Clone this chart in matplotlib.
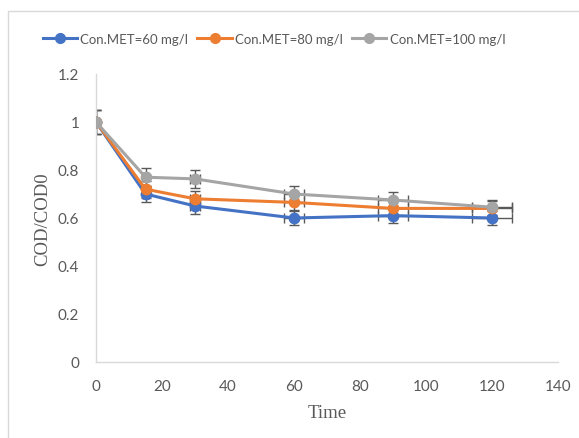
import matplotlib
matplotlib.use("Agg")
import matplotlib.pyplot as plt
from matplotlib.patches import Rectangle

time = [0, 15, 30, 60, 90, 120]
met60 = [1.0, 0.70, 0.65, 0.60, 0.61, 0.60]
met80 = [1.0, 0.72, 0.68, 0.665, 0.64, 0.64]
met100 = [1.0, 0.77, 0.763, 0.70, 0.675, 0.645]
yerr60 = [0.05, 0.035, 0.033, 0.03, 0.03, 0.03]
yerr80 = [0.05, 0.036, 0.034, 0.033, 0.032, 0.032]
yerr100 = [0.05, 0.038, 0.038, 0.035, 0.034, 0.032]
xerr = [0, 0.75, 1.5, 3, 4.5, 6]
labels = ["Con.MET=60 mg/l", "Con.MET=80 mg/l", "Con.MET=100 mg/l"]
colors = ["#4472C4", "#ED7D31", "#A5A5A5"]
xticks = [0, 20, 40, 60, 80, 100, 120, 140]
yticks = [0, 0.2, 0.4, 0.6, 0.8, 1.0, 1.2]
yticklabels = ["0", "0.2", "0.4", "0.6", "0.8", "1", "1.2"]

fig = plt.figure(figsize=(5.79, 4.39), dpi=100)
fig.patches.append(Rectangle((8/579, -0.1), 1.2, 1 - 12/439 + 0.1, transform=fig.transFigure,
                             fill=False, edgecolor="#d9d9d9", linewidth=1))
ax = fig.add_axes([96/579, 1 - 363/439, 462/579, 288/439])

for ys, ye, c, lab in zip([met60, met80, met100], [yerr60, yerr80, yerr100], colors, labels):
    ax.errorbar(time, ys, yerr=ye, xerr=xerr, fmt="none", ecolor="#595959",
                elinewidth=1, capsize=3.5, capthick=1, zorder=2)
    ax.plot(time, ys, color=c, lw=2.2, marker="o", markersize=7.5, label=lab, zorder=3)

ax.set_xlim(0, 140)
ax.set_ylim(0, 1.2)
ax.set_xticks(xticks)
ax.set_yticks(yticks)
ax.set_yticklabels(yticklabels)
ax.tick_params(length=0, labelsize=11, labelcolor="#595959")
ax.tick_params(axis="x", pad=12)
ax.tick_params(axis="y", pad=12)
for t in ax.get_xticklabels() + ax.get_yticklabels():
    t.set_family("Lato")
for s in ["top", "right"]:
    ax.spines[s].set_visible(False)
for s in ["left", "bottom"]:
    ax.spines[s].set_color("#d9d9d9")
    ax.spines[s].set_linewidth(1)

ax.set_xlabel("Time", family="Liberation Serif", fontsize=13.5, color="#595959", labelpad=8)
ax.set_ylabel("COD/COD0", family="Liberation Serif", fontsize=13.5, color="#595959", labelpad=5)

leg = fig.legend(loc="center", bbox_to_anchor=(274/579, 1 - 40/439), ncol=3, frameon=False,
                 prop={"family": "Lato", "size": 9.5}, handlelength=2.6,
                 columnspacing=0.7, handletextpad=0.25, labelcolor="#595959")
for h in leg.legend_handles:
    h.set_markersize(7)

fig.savefig("out.png", dpi=100)
